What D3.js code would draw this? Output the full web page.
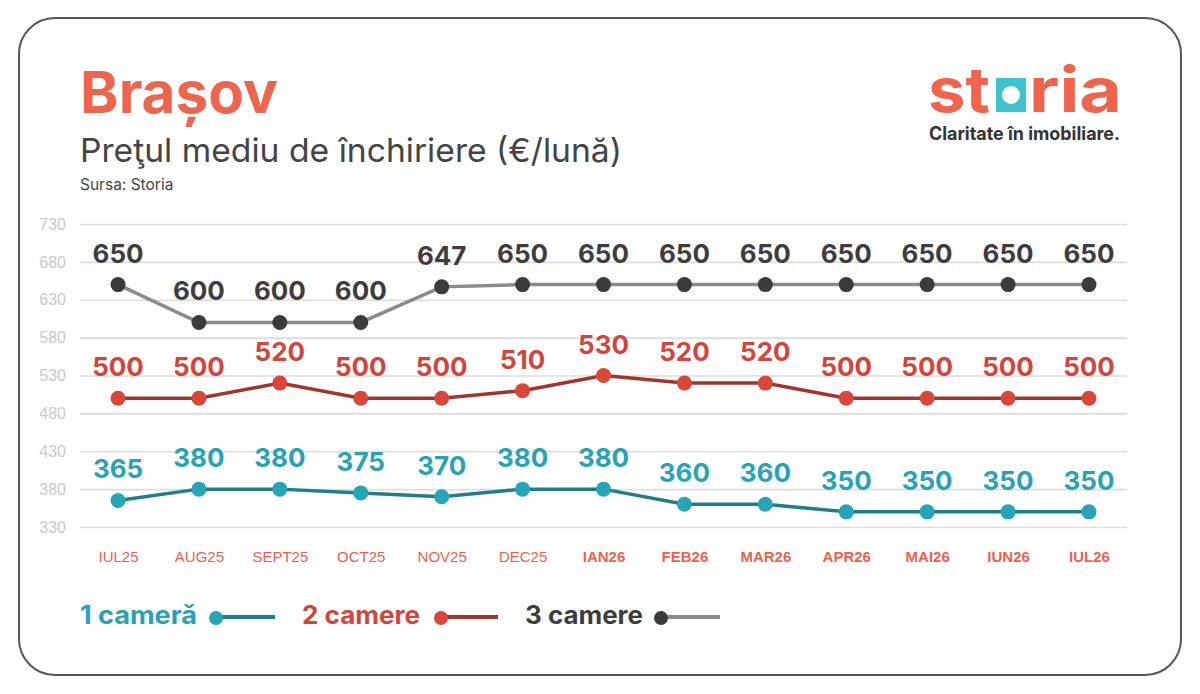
<!DOCTYPE html>
<html>
<head>
<meta charset="utf-8">
<script src="https://cdn.jsdelivr.net/npm/d3@7"></script>
<style>
  body { margin: 0; background: #fff; }
  svg { display: block; font-family: "Inter", "Lato", sans-serif; }
  .yAxis text { fill: #cacaca; font-size: 16px; }
  .yAxis line { stroke: #dedede; stroke-width: 1.6; }
  .xAxis text { fill: #ef5f4c; font-size: 15px; }
</style>
</head>
<body>
<div id="chart"></div>
<script>
// data
var months = ["IUL25", "AUG25", "SEPT25", "OCT25", "NOV25", "DEC25", "IAN26", "FEB26", "MAR26", "APR26", "MAI26", "IUN26", "IUL26"];
var boldMonths = ["IAN26", "FEB26", "MAR26", "APR26", "MAI26", "IUN26", "IUL26"];
var oneRoom = [365, 380, 380, 375, 370, 380, 380, 360, 360, 350, 350, 350, 350];
var twoRooms = [500, 500, 520, 500, 500, 510, 530, 520, 520, 500, 500, 500, 500];
var threeRooms = [650, 600, 600, 600, 647, 650, 650, 650, 650, 650, 650, 650, 650];
var yTicks = [330, 380, 430, 480, 530, 580, 630, 680, 730];
var seriesNames = ["1 camerǎ", "2 camere", "3 camere"];

var svgWidth = 1200;
var svgHeight = 694;

var margin = { top: 224, right: 73, bottom: 167, left: 80 };
var width = svgWidth - margin.left - margin.right;
var height = svgHeight - margin.top - margin.bottom;

var svg = d3.select("#chart")
    .append("svg")
    .attr("width", svgWidth)
    .attr("height", svgHeight);

// card frame
svg.append("rect")
    .attr("x", 19).attr("y", 18)
    .attr("width", 1162).attr("height", 657)
    .attr("rx", 36).attr("ry", 36)
    .attr("fill", "#fff")
    .attr("stroke", "#555")
    .attr("stroke-width", 2);

// titles
svg.append("text")
    .attr("x", 80).attr("y", 113)
    .attr("fill", "#f0634d")
    .attr("font-size", 58).attr("font-weight", 700)
    .attr("textLength", 198).attr("lengthAdjust", "spacingAndGlyphs")
    .text("Brașov");

svg.append("text")
    .attr("x", 80).attr("y", 162)
    .attr("fill", "#444")
    .attr("font-size", 33)
    .attr("textLength", 542).attr("lengthAdjust", "spacingAndGlyphs")
    .text("Preţul mediu de închiriere (€/lună)");

svg.append("text")
    .attr("x", 80).attr("y", 190)
    .attr("fill", "#444")
    .attr("font-size", 15.5)
    .text("Sursa: Storia");

// storia logo
var logo = svg.append("g");
logo.append("text")
    .attr("x", 928).attr("y", 112)
    .attr("fill", "#f0634d")
    .attr("font-size", 62).attr("font-weight", 700)
    .attr("textLength", 62).attr("lengthAdjust", "spacingAndGlyphs")
    .text("st");
logo.append("rect")
    .attr("x", 996).attr("y", 78)
    .attr("width", 30).attr("height", 34)
    .attr("fill", "#3ec3cf");
logo.append("circle")
    .attr("cx", 1011).attr("cy", 95).attr("r", 9)
    .attr("fill", "#fff");
logo.append("text")
    .attr("x", 1029).attr("y", 112)
    .attr("fill", "#f0634d")
    .attr("font-size", 62).attr("font-weight", 700)
    .attr("textLength", 93).attr("lengthAdjust", "spacingAndGlyphs")
    .text("ria");
logo.append("text")
    .attr("x", 929).attr("y", 140)
    .attr("fill", "#333")
    .attr("font-size", 18.5).attr("font-weight", 700)
    .attr("textLength", 191).attr("lengthAdjust", "spacingAndGlyphs")
    .text("Claritate în imobiliare.");

var chartGroup = svg.append("g")
    .attr("transform", `translate(${margin.left}, ${margin.top})`);

// scales
var xScale = d3.scalePoint()
    .domain(months)
    .range([0, width])
    .padding(0.47);

var yScale = d3.scaleLinear()
    .domain([330, 730])
    .range([height, 0]);

// axes
var leftAxis = d3.axisLeft(yScale)
    .tickValues(yTicks)
    .tickSize(-width)
    .tickPadding(14);

var yAxisG = chartGroup.append("g")
    .attr("class", "yAxis")
    .call(leftAxis);
yAxisG.select(".domain").remove();
yAxisG.selectAll(".tick")
    .filter(d => d === 330)
    .select("line")
    .attr("stroke", "#444")
    .attr("stroke-width", 2);

var bottomAxis = d3.axisBottom(xScale)
    .tickSize(0)
    .tickPadding(24);

var xAxisG = chartGroup.append("g")
    .attr("class", "xAxis")
    .attr("transform", `translate(0, ${height})`)
    .call(bottomAxis);
xAxisG.select(".domain").remove();
xAxisG.selectAll("text")
    .attr("font-weight", d => boldMonths.includes(d) ? 700 : 400);

// series
var series = [
    { name: seriesNames[2], values: threeRooms, line: "#8b8b8d", dot: "#3b3b3b", label: "#3d3d3d" },
    { name: seriesNames[1], values: twoRooms, line: "#a3342b", dot: "#d8473a", label: "#d4443a" },
    { name: seriesNames[0], values: oneRoom, line: "#1d7f8c", dot: "#25a5b7", label: "#26a3b5" }
];

var line = d3.line()
    .x((d, i) => xScale(months[i]))
    .y(d => yScale(d));

series.forEach(function(s) {
    var g = chartGroup.append("g");

    g.append("path")
        .datum(s.values)
        .attr("d", line)
        .attr("fill", "none")
        .attr("stroke", s.line)
        .attr("stroke-width", 3.5);

    g.selectAll("circle")
        .data(s.values)
        .enter()
        .append("circle")
        .attr("cx", (d, i) => xScale(months[i]))
        .attr("cy", d => yScale(d))
        .attr("r", 7.5)
        .attr("fill", s.dot);

    g.selectAll("text")
        .data(s.values)
        .enter()
        .append("text")
        .attr("x", (d, i) => xScale(months[i]))
        .attr("y", d => yScale(d) - 22)
        .attr("text-anchor", "middle")
        .attr("fill", s.label)
        .attr("font-size", 26)
        .attr("font-weight", 700)
        .text(d => d);
});

// legend
var legendItems = [
    { name: seriesNames[0], x: 80, width: 117, dotX: 216, lineEnd: 275, text: "#26a3b5", dot: "#25a5b7", line: "#1d7f8c" },
    { name: seriesNames[1], x: 302, width: 118, dotX: 441, lineEnd: 498, text: "#d4443a", dot: "#d8473a", line: "#a3342b" },
    { name: seriesNames[2], x: 525, width: 118, dotX: 661, lineEnd: 720, text: "#3d3d3d", dot: "#3b3b3b", line: "#8b8b8d" }
];

var legend = svg.append("g");
legendItems.forEach(function(l) {
    legend.append("text")
        .attr("x", l.x).attr("y", 624)
        .attr("fill", l.text)
        .attr("font-size", 25).attr("font-weight", 700)
        .attr("textLength", l.width).attr("lengthAdjust", "spacingAndGlyphs")
        .text(l.name);
    legend.append("line")
        .attr("x1", l.dotX).attr("x2", l.lineEnd)
        .attr("y1", 617).attr("y2", 617)
        .attr("stroke", l.line)
        .attr("stroke-width", 4);
    legend.append("circle")
        .attr("cx", l.dotX).attr("cy", 618).attr("r", 7)
        .attr("fill", l.dot);
});
</script>
</body>
</html>
